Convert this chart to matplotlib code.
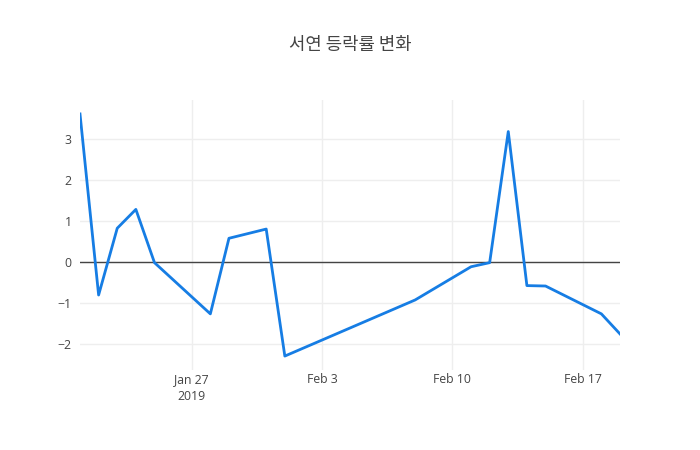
import matplotlib
matplotlib.use('Agg')
import matplotlib.pyplot as plt
import numpy as np

plt.rcParams['font.family'] = ['Open Sans', 'Noto Sans CJK KR', 'DejaVu Sans']

# 데이터
dates = np.array(['2019-01-21', '2019-01-22', '2019-01-23', '2019-01-24', '2019-01-25',
                  '2019-01-28', '2019-01-29', '2019-01-31', '2019-02-01', '2019-02-08',
                  '2019-02-11', '2019-02-12', '2019-02-13', '2019-02-14', '2019-02-15',
                  '2019-02-18', '2019-02-19'], dtype='datetime64[D]')
values = [3.62, -0.80, 0.83, 1.29, -0.01,
          -1.26, 0.585, 0.81, -2.29, -0.92,
          -0.11, -0.01, 3.19, -0.57, -0.58,
          -1.26, -1.75]

tick_dates = np.array(['2019-01-27', '2019-02-03', '2019-02-10', '2019-02-17'], dtype='datetime64[D]')
tick_labels = ['Jan 27\n2019', 'Feb 3', 'Feb 10', 'Feb 17']
y_ticks = [-2, -1, 0, 1, 2, 3]

fig = plt.figure(figsize=(7, 4.5), dpi=100)
ax = fig.add_axes([80/700, 80/450, 540/700, 270/450])

ax.plot(dates.astype(object), values, color='#167de4', linewidth=2, zorder=3)

ax.set_xlim(dates[0].astype(object), dates[-1].astype(object))
ax.set_ylim(-2.63, 3.96)

ax.set_xticks(tick_dates.astype(object))
ax.set_xticklabels(tick_labels)
ax.set_yticks(y_ticks)
ax.set_yticklabels(['\u22122', '\u22121', '0', '1', '2', '3'])

ax.tick_params(axis='both', length=0, labelsize=8.8, colors='#444444', pad=6)
ax.tick_params(axis='x', pad=2)
for lbl in ax.get_xticklabels():
    lbl.set_linespacing(1.4)

ax.grid(True, color='#eeeeee', linewidth=1, zorder=0)
ax.axhline(0, color='#444444', linewidth=1, zorder=2)

for s in ax.spines.values():
    s.set_visible(False)

fig.text(0.5, 1 - 45/450, '서연 등락률 변화', ha='center', va='center',
         fontsize=12.8, color='#444444', family=['Noto Sans CJK KR', 'DejaVu Sans'])

fig.savefig('out.png', dpi=100)
